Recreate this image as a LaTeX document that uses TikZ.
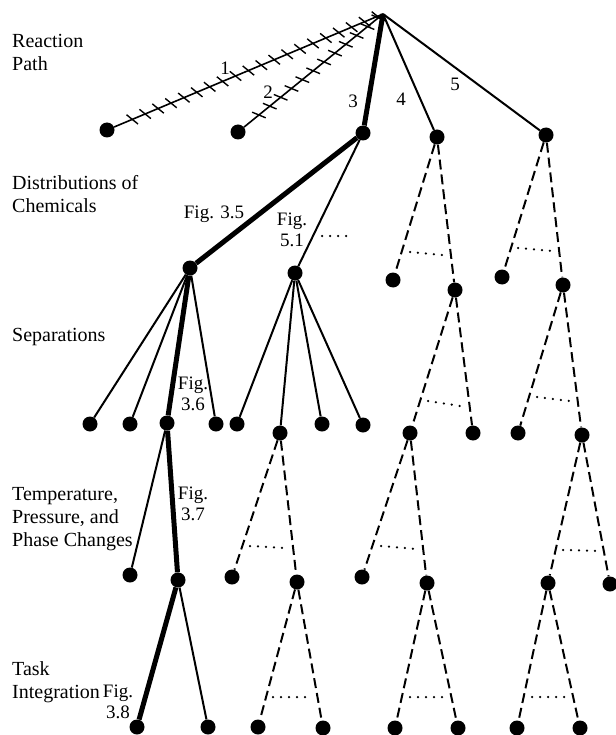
\documentclass[tikz,border=0pt]{standalone}
\usepackage{fontspec}
\setmainfont{Liberation Serif}
\usetikzlibrary{decorations.markings}
\tikzset{
  chem/.style={circle, fill=black, inner sep=0pt, minimum size=15pt},
  thinedge/.style={line width=2pt},
  boldedge/.style={line width=5pt},
  dashedge/.style={line width=2pt, dash pattern=on 10pt off 5pt},
  moredots/.style={line width=2.5pt, line cap=round, dash pattern=on 0pt off 8pt},
  hatchedge/.style={line width=1.6pt,
    postaction={decorate, decoration={markings,
      mark=between positions 6pt and -6pt step 14pt with
        {\draw[line width=1.4pt] (-3.5pt,6.5pt) -- (3.5pt,-6.5pt);}}}},
  levellabel/.style={font=\fontsize{20}{23}\selectfont, align=left,
    anchor=base west, inner sep=0pt},
  figlabel/.style={font=\fontsize{19}{21}\selectfont, align=center, inner sep=0pt},
}

\begin{document}
\begin{tikzpicture}[x=1pt, y=-1pt]
  \useasboundingbox (0,0) rectangle (615,735);

  % Level names (base = last line)
  \node[levellabel] (lv-rp) at (12,71) {Reaction\\Path};
  \node[levellabel] (lv-dc) at (12,212) {Distributions of\\Chemicals};
  \node[levellabel] (lv-sp) at (12,341) {Separations};
  \node[levellabel] (lv-tp) at (12,546) {Temperature,\\Pressure, and\\Phase Changes};
  \node[levellabel] (lv-ti) at (12,698) {Task\\Integration};

  % Reaction path
  \coordinate (root) at (383,14);
  \node[chem] (rp1) at (107,130) {};
  \node[chem] (rp2) at (238,132) {};
  \node[chem] (rp3) at (363,133) {};
  \node[chem] (rp4) at (437,137) {};
  \node[chem] (rp5) at (546,135) {};

  % Distributions of chemicals
  \node[chem] (dc35) at (190,268) {};
  \node[chem] (dc51) at (295,273) {};
  \node[chem] (dc4a) at (393,280) {};
  \node[chem] (dc4b) at (455,290) {};
  \node[chem] (dc5a) at (502,277) {};
  \node[chem] (dc5b) at (563,285) {};

  % Separations
  \node[chem] (sp1) at (90,424) {};
  \node[chem] (sp2) at (130,424) {};
  \node[chem] (sp3) at (167,423) {};
  \node[chem] (sp4) at (216,424) {};
  \node[chem] (sp5) at (237,424) {};
  \node[chem] (sp6) at (280,433) {};
  \node[chem] (sp7) at (322,424) {};
  \node[chem] (sp8) at (363,425) {};
  \node[chem] (sp9) at (410,433) {};
  \node[chem] (sp10) at (473,433) {};
  \node[chem] (sp11) at (518,433) {};
  \node[chem] (sp12) at (582,435) {};

  % Temperature, pressure, phase changes
  \node[chem] (tp1) at (130,575) {};
  \node[chem] (tp2) at (178,580) {};
  \node[chem] (tp3) at (232,577) {};
  \node[chem] (tp4) at (297,582) {};
  \node[chem] (tp5) at (362,577) {};
  \node[chem] (tp6) at (427,583) {};
  \node[chem] (tp7) at (548,583) {};
  \node[chem] (tp8) at (610,584) {};

  % Task integration
  \node[chem] (ti1) at (137,727) {};
  \node[chem] (ti2) at (208,727) {};
  \node[chem] (ti3) at (258,727) {};
  \node[chem] (ti4) at (323,728) {};
  \node[chem] (ti5) at (395,728) {};
  \node[chem] (ti6) at (458,728) {};
  \node[chem] (ti7) at (517,728) {};
  \node[chem] (ti8) at (580,728) {};

  % Connectors
  \draw[hatchedge] (root) -- (rp1);
  \draw[hatchedge] (root) -- (rp2);
  \foreach \a/\b in {root/rp3, rp3/dc35, dc35/sp3, sp3/tp2, tp2/ti1}
    { \draw[boldedge] (\a) -- (\b); }
  \foreach \a/\b in {root/rp4, root/rp5, rp3/dc51, dc35/sp1, dc35/sp2, dc35/sp4,
                     dc51/sp5, dc51/sp6, dc51/sp7, dc51/sp8, sp3/tp1, tp2/ti2}
    { \draw[thinedge] (\a) -- (\b); }
  \foreach \a/\b in {rp4/dc4a, rp4/dc4b, rp5/dc5a, rp5/dc5b,
                     dc4b/sp9, dc4b/sp10, dc5b/sp11, dc5b/sp12,
                     sp6/tp3, sp6/tp4, sp9/tp5, sp9/tp6, sp12/tp7, sp12/tp8,
                     tp4/ti3, tp4/ti4, tp6/ti5, tp6/ti6, tp7/ti7, tp7/ti8}
    { \draw[dashedge] (\a) -- (\b); }

  % Further alternatives
  \foreach \xa/\ya/\xb/\yb in {322/236/348/236, 410/252/443/255, 518/248/552/251,
                               428/401/460/406, 537/397/569/401,
                               250/546/285/548, 381/546/417/549, 563/550/597/551,
                               273/697/307/697, 410/697/445/697, 532/697/567/697}
    { \draw[moredots] (\xa,\ya) -- (\xb,\yb); }

  % Edge labels
  \node[figlabel] (l1) at (225,68) {1};
  \node[figlabel] (l2) at (268,92) {2};
  \node[figlabel] (l3) at (353,101) {3};
  \node[figlabel] (l4) at (401,99) {4};
  \node[figlabel] (l5) at (455,84) {5};
  \node[figlabel] (f35) at (214,214) {Fig. 3.5};
  \node[figlabel] (f51) at (292,230) {Fig.\\5.1};
  \node[figlabel] (f36) at (193,394) {Fig.\\3.6};
  \node[figlabel] (f37) at (193,504) {Fig.\\3.7};
  \node[figlabel] (f38) at (118,702) {Fig.\\3.8};
\end{tikzpicture}
\end{document}
